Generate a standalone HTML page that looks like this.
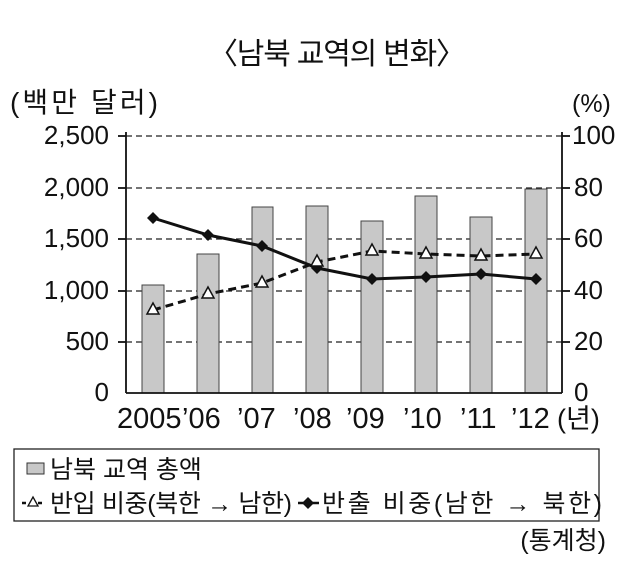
<!DOCTYPE html>
<html><head><meta charset="utf-8"><style>
body{margin:0;background:#fff;width:632px;height:559px;overflow:hidden}
text{font-family:"Liberation Sans","Noto Sans CJK KR",sans-serif;fill:#111}
</style></head><body>
<svg width="632" height="559" viewBox="0 0 632 559" xmlns="http://www.w3.org/2000/svg">
<text x="208" y="64" font-size="30" textLength="258" lengthAdjust="spacing">〈남북 교역의 변화〉</text>
<text x="10" y="112" font-size="28" textLength="148" lengthAdjust="spacing">(백만 달러)</text>
<text x="572" y="112" font-size="25">(%)</text>
<g stroke="#222" stroke-width="1.2" stroke-dasharray="6,4">
<line x1="126" y1="136" x2="562" y2="136"/><line x1="126" y1="188" x2="562" y2="188"/>
<line x1="126" y1="239" x2="562" y2="239"/><line x1="126" y1="291" x2="562" y2="291"/>
<line x1="126" y1="342" x2="562" y2="342"/>
</g>
<g fill="#c8c8c8" stroke="#444" stroke-width="1">
<rect x="142" y="285" width="22" height="108"/><rect x="197" y="254" width="22" height="139"/>
<rect x="252" y="207" width="21" height="186"/><rect x="306" y="206" width="22" height="187"/>
<rect x="361" y="221" width="22" height="172"/><rect x="415" y="196" width="22" height="197"/>
<rect x="470" y="217" width="22" height="176"/><rect x="525" y="189" width="22" height="204"/>
</g>
<g stroke="#111" stroke-width="1.8" fill="none">
<line x1="126" y1="132" x2="126" y2="393"/><line x1="562" y1="132" x2="562" y2="393"/>
<line x1="126" y1="393" x2="562" y2="393"/>
<line x1="118" y1="136" x2="126" y2="136"/><line x1="118" y1="188" x2="126" y2="188"/><line x1="118" y1="239" x2="126" y2="239"/><line x1="118" y1="291" x2="126" y2="291"/><line x1="118" y1="342" x2="126" y2="342"/>
<line x1="562" y1="136" x2="570" y2="136"/><line x1="562" y1="188" x2="570" y2="188"/><line x1="562" y1="239" x2="570" y2="239"/><line x1="562" y1="291" x2="570" y2="291"/><line x1="562" y1="342" x2="570" y2="342"/>
</g>
<polyline points="153,310 208,294 262,283 317,262 372,251 426,254 481,256 536,254" fill="none" stroke="#111" stroke-width="3" stroke-dasharray="8,5"/>
<polyline points="153,218 208,235 262,246 317,268 372,279 426,277 481,274 536,279" fill="none" stroke="#111" stroke-width="3"/>
<g fill="#111">
<path d="M153,212l6,6l-6,6l-6-6z"/><path d="M208,229l6,6l-6,6l-6-6z"/><path d="M262,240l6,6l-6,6l-6-6z"/><path d="M317,262l6,6l-6,6l-6-6z"/>
<path d="M372,273l6,6l-6,6l-6-6z"/><path d="M426,271l6,6l-6,6l-6-6z"/><path d="M481,268l6,6l-6,6l-6-6z"/><path d="M536,273l6,6l-6,6l-6-6z"/>
</g>
<g fill="#fff" stroke="#111" stroke-width="1.5">
<path d="M153,303l6,11h-12z"/><path d="M208,287l6,11h-12z"/><path d="M262,276l6,11h-12z"/><path d="M317,255l6,11h-12z"/>
<path d="M372,244l6,11h-12z"/><path d="M426,247l6,11h-12z"/><path d="M481,249l6,11h-12z"/><path d="M536,247l6,11h-12z"/>
</g>
<g font-size="26" text-anchor="end">
<text x="109" y="144">2,500</text><text x="109" y="196">2,000</text><text x="109" y="247">1,500</text>
<text x="109" y="299">1,000</text><text x="109" y="350">500</text><text x="109" y="401">0</text>
</g>
<g font-size="26">
<text x="572" y="144">100</text><text x="574" y="196">80</text><text x="574" y="247">60</text>
<text x="574" y="299">40</text><text x="574" y="350">20</text><text x="574" y="401">0</text>
</g>
<g font-size="29">
<text x="117" y="428">2005</text>
<text x="182" y="428">’06</text>
<text x="237" y="428">’07</text>
<text x="293" y="428">’08</text>
<text x="346" y="428">’09</text>
<text x="403" y="428">’10</text>
<text x="460" y="428">’11</text>
<text x="511" y="428">’12</text>
<text x="557" y="428" font-size="27">(년)</text>
</g>
<rect x="14" y="449" width="585" height="72" fill="none" stroke="#222" stroke-width="1.3"/>
<rect x="27" y="463" width="17" height="11" fill="#c8c8c8" stroke="#333"/>
<text x="50" y="478" font-size="25">남북 교역 총액</text>
<line x1="22" y1="503" x2="45" y2="503" stroke="#111" stroke-width="2.5" stroke-dasharray="4,4"/>
<path d="M33,497l5,9h-10z" fill="#fff" stroke="#111" stroke-width="1.3"/>
<text x="50" y="512" font-size="25" textLength="242" lengthAdjust="spacing">반입 비중(북한 → 남한)</text>
<line x1="298" y1="503" x2="319" y2="503" stroke="#111" stroke-width="2.5"/>
<path d="M308,497l6,6l-6,6l-6-6z" fill="#111"/>
<text x="322" y="512" font-size="25" textLength="280" lengthAdjust="spacing">반출 비중(남한 → 북한)</text>
<text x="606" y="549" font-size="25" text-anchor="end">(통계청)</text>
</svg>
</body></html>
